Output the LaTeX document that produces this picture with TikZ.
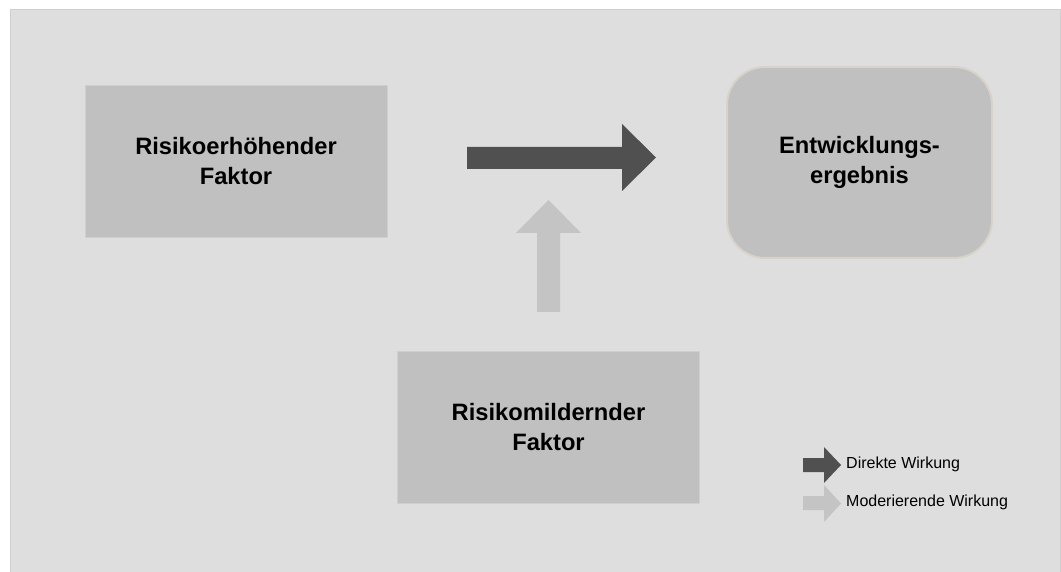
\documentclass[tikz,border=0pt]{standalone}
\usepackage{fontspec}
\setmainfont{Liberation Sans}
\definecolor{panel}{HTML}{DEDEDE}
\definecolor{panelline}{HTML}{CFCFCF}
\definecolor{boxfill}{HTML}{C0C0C0}
\definecolor{boxline}{HTML}{D8D3CA}
\definecolor{darkarrow}{HTML}{505050}
\definecolor{lightarrow}{HTML}{C4C4C4}
\tikzset{
  factorbox/.style={fill=boxfill, draw=panelline, line width=0.6pt, minimum width=302pt, minimum height=152pt, align=center, font=\fontsize{23.7}{30}\selectfont\bfseries, inner sep=0pt},
  resultbox/.style={fill=boxfill, draw=boxline, line width=2pt, rounded corners=38pt, minimum width=265pt, minimum height=191pt, align=center, font=\fontsize{23.7}{30}\selectfont\bfseries, inner sep=0pt},
  legendtext/.style={anchor=west, font=\fontsize{16}{18}\selectfont, inner sep=0pt}
}
\begin{document}
\begin{tikzpicture}[x=1pt,y=1pt]
\useasboundingbox (0,0) rectangle (1061,571);
\fill[white] (0,0) rectangle (1061,571);
\filldraw[fill=panel, draw=panelline, line width=1pt] (10.5,-2) rectangle (1060.5,561.5);
% boxes
\node[factorbox] (risk) at (236,410) {Risikoerhöhender\\Faktor};
\node[factorbox] (mild) at (548.5,144) {Risikomildernder\\Faktor};
\node[resultbox] (out) at (859.5,408.5) {Entwicklungs-\\ergebnis};
% direct effect arrow
\fill[darkarrow] (467,424) -- (622,424) -- (622,447) -- (656,413.5) -- (622,380) -- (622,402) -- (467,402) -- cycle;
% moderating arrow
\fill[lightarrow] (537,259) -- (537,338) -- (516,338) -- (548.5,371) -- (581,338) -- (560,338) -- (560,259) -- cycle;
% legend
\fill[darkarrow] (803,113) -- (824,113) -- (824,124) -- (841,106) -- (824,88) -- (824,99) -- (803,99) -- cycle;
\fill[lightarrow] (803,75) -- (824,75) -- (824,86) -- (841,67.5) -- (824,49) -- (824,61) -- (803,61) -- cycle;
\node[legendtext] (l1) at (846,107) {Direkte Wirkung};
\node[legendtext] (l2) at (846,69) {Moderierende Wirkung};
\end{tikzpicture}
\end{document}
